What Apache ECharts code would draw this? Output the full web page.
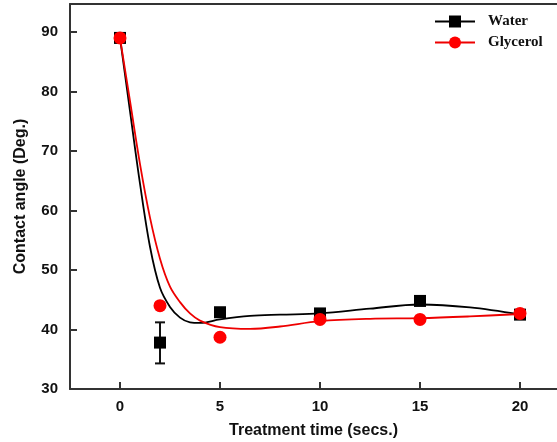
<!DOCTYPE html>
<html>
<head>
<meta charset="utf-8">
<script src="https://cdn.jsdelivr.net/npm/echarts@6/dist/echarts.min.js"></script>
<style>
  html, body { margin: 0; padding: 0; background: #fff; }
  #chart { width: 557px; height: 442px; }
</style>
</head>
<body>
<div id="chart"></div>
<script>
// measured points
const tempos = [0, 2, 5, 10, 15, 20];
const aguaPontos = [89.0, 37.8, 42.9, 42.7, 44.8, 42.5];
const glicerolPontos = [89.0, 44.0, 38.7, 41.7, 41.7, 42.7];

// error bar on water at t = 2
const erroAgua = [[2, 34.3, 41.2]];

// fitted curves
const ajusteX = [0, 0.5, 1, 1.5, 2, 2.5, 3, 3.5, 4, 5, 6.5, 8, 10, 12.5, 15, 17.5, 20];
const aguaAjuste = [89, 76.7, 64.5, 53.9, 47.0, 43.8, 42.0, 41.2, 41.1, 41.7, 42.3, 42.5, 42.7, 43.5, 44.2, 43.7, 42.5];
const glicerolAjuste = [89, 78.4, 67.8, 58.8, 51.9, 47.2, 44.6, 42.7, 41.5, 40.4, 40.1, 40.5, 41.4, 41.8, 41.9, 42.2, 42.6];

const xTicks = [0, 5, 10, 15, 20];
const yTicks = [30, 40, 50, 60, 70, 80, 90];

function pares(xs, ys) {
    return xs.map((x, i) => [x, ys[i]]);
}

const eixo = '#333';
const fonteEixo = { fontFamily: 'Arial', fontWeight: 'bold', color: '#111' };

const chart = echarts.init(document.getElementById('chart'), null, { renderer: 'canvas' });

let option = {
    animation: false,
    backgroundColor: '#fff',
    grid: { left: 70, right: 0, top: 4, bottom: 53, containLabel: false, outerBoundsMode: 'none' },
    legend: {
        top: 9,
        left: 429,
        orient: 'vertical',
        itemWidth: 40,
        itemHeight: 15,
        itemGap: 6,
        textStyle: { fontFamily: 'Liberation Serif', fontWeight: 'bold', fontSize: 15, color: '#111',
                     padding: [0, 0, 0, 8] },
        data: [
            { name: 'Water', lineStyle: { color: '#000', width: 2, opacity: 1 } },
            { name: 'Glycerol', lineStyle: { color: '#e00', width: 2, opacity: 1 } }
        ]
    },
    xAxis: [{
        type: 'value',
        min: -2.5,
        max: 21.85,
        interval: 5,
        name: 'Treatment time (secs.)',
        nameLocation: 'middle',
        nameGap: 34,
        nameTextStyle: Object.assign({ fontSize: 16 }, fonteEixo),
        axisLine: { onZero: false, lineStyle: { color: eixo, width: 2 } },
        axisTick: { inside: true, length: 7, lineStyle: { color: eixo, width: 2 },
                    customValues: xTicks },
        axisLabel: Object.assign({ fontSize: 15, margin: 10, customValues: xTicks }, fonteEixo),
        splitLine: { show: false }
    }, {
        type: 'value',
        position: 'top',
        min: -2.5,
        max: 21.85,
        axisLine: { onZero: false, lineStyle: { color: eixo, width: 2 } },
        axisTick: { show: false },
        axisLabel: { show: false },
        splitLine: { show: false }
    }],
    yAxis: {
        type: 'value',
        min: 30,
        max: 94.7,
        name: 'Contact angle (Deg.)',
        nameLocation: 'middle',
        nameGap: 41,
        nameTextStyle: Object.assign({ fontSize: 16 }, fonteEixo),
        axisLine: { show: true, onZero: false, lineStyle: { color: eixo, width: 2 } },
        axisTick: { inside: true, length: 7, lineStyle: { color: eixo, width: 2 },
                    customValues: yTicks },
        axisLabel: Object.assign({ fontSize: 15, margin: 12, customValues: yTicks }, fonteEixo),
        splitLine: { show: false }
    },
    series: [
        {
            name: 'ajusteAgua',
            type: 'line',
            data: pares(ajusteX, aguaAjuste),
            smooth: 0.35,
            showSymbol: false,
            lineStyle: { color: '#000', width: 1.8 },
            z: 2
        },
        {
            name: 'ajusteGlicerol',
            type: 'line',
            data: pares(ajusteX, glicerolAjuste),
            smooth: 0.35,
            showSymbol: false,
            lineStyle: { color: '#e00', width: 1.8 },
            z: 2
        },
        {
            name: 'erro',
            type: 'custom',
            data: erroAgua,
            renderItem: function (params, api) {
                const topo = api.coord([api.value(0), api.value(2)]);
                const base = api.coord([api.value(0), api.value(1)]);
                const w = 5;
                const estilo = { stroke: '#111', lineWidth: 2 };
                return {
                    type: 'group',
                    children: [
                        { type: 'line', shape: { x1: topo[0], y1: topo[1], x2: base[0], y2: base[1] }, style: estilo },
                        { type: 'line', shape: { x1: topo[0] - w, y1: topo[1], x2: topo[0] + w, y2: topo[1] }, style: estilo },
                        { type: 'line', shape: { x1: base[0] - w, y1: base[1], x2: base[0] + w, y2: base[1] }, style: estilo }
                    ]
                };
            },
            z: 3
        },
        {
            name: 'Water',
            type: 'line',
            data: pares(tempos, aguaPontos),
            symbol: 'rect',
            symbolSize: 12,
            itemStyle: { color: '#000' },
            lineStyle: { opacity: 0 },
            z: 4
        },
        {
            name: 'Glycerol',
            type: 'line',
            data: pares(tempos, glicerolPontos),
            symbol: 'circle',
            symbolSize: 13,
            itemStyle: { color: '#f00' },
            lineStyle: { opacity: 0 },
            z: 5
        }
    ]
};

chart.setOption(option);
</script>
</body>
</html>
